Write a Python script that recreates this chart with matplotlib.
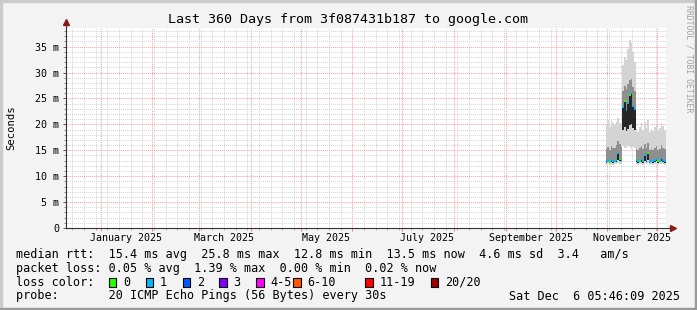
import datetime as dt
import matplotlib
matplotlib.use("Agg")
import matplotlib.pyplot as plt
import matplotlib.dates as mdates
from matplotlib.patches import Rectangle
import numpy as np
import pandas as pd

# --- data (one value per day, Oct 31 .. Dec 5 2025) ---
days = pd.date_range("2025-10-31", periods=36, freq="D")

median_ms = [12.9, 13.0, 12.8, 13.1, 12.9, 13.0, 13.2, 14.5, 13.4, 13.0,
             23.4, 24.6, 22.8, 24.1, 25.6, 26.0, 23.5, 22.9,
             13.2, 12.9, 13.0, 13.3, 12.9, 14.0, 13.1, 14.5, 12.8, 13.0, 12.9,
             13.1, 13.4, 12.9, 13.0, 13.6, 13.2, 13.0]
smoke_min = [12.2, 12.3, 12.1, 12.3, 12.2, 12.3, 12.4, 12.5, 12.4, 12.3,
             15.8, 15.5, 15.4, 15.9, 15.6, 15.3, 15.7, 15.5,
             12.3, 12.2, 12.3, 12.4, 12.2, 12.5, 12.3, 12.5, 12.1, 12.3, 12.2,
             12.3, 12.4, 12.2, 12.3, 12.4, 12.3, 12.2]
smoke_lo = [12.6, 12.7, 12.5, 12.7, 12.6, 12.7, 12.8, 13.2, 12.9, 12.7,
            19.0, 19.5, 18.8, 19.2, 19.8, 20.0, 19.3, 18.9,
            12.7, 12.6, 12.7, 12.8, 12.6, 13.0, 12.7, 13.2, 12.5, 12.7, 12.6,
            12.7, 12.9, 12.6, 12.7, 13.0, 12.8, 12.6]
smoke_hi = [15.2, 15.6, 15.0, 15.8, 15.4, 15.5, 16.0, 16.8, 16.2, 15.6,
            26.5, 27.5, 26.8, 27.8, 28.5, 28.8, 27.2, 26.4,
            15.3, 15.0, 15.4, 15.8, 15.2, 16.2, 15.5, 16.5, 15.0, 15.3, 15.1,
            15.4, 15.9, 15.1, 15.3, 16.0, 15.5, 15.2]
smoke_max = [20.0, 20.8, 19.5, 21.0, 20.2, 19.8, 20.5, 21.2, 20.3, 19.9,
             31.5, 33.0, 32.5, 34.5, 36.2, 35.8, 34.0, 32.0,
             19.2, 18.6, 19.5, 20.3, 19.0, 20.5, 19.3, 20.8, 18.5, 19.2, 18.8,
             19.4, 20.0, 18.7, 19.3, 20.2, 19.6, 19.0]
loss_count = [1, 1, 0, 1, 1, 1, 1, 1, 0, 1,
              1, 0, 1, 1, 0, 1, 1, 1,
              1, 1, 0, 1, 1, 1, 1, 0, 1, 1, 1, 1, 1, 0, 1, 1, 1, 1]

loss_labels = ["0", "1", "2", "3", "4-5", "6-10", "11-19", "20/20"]
loss_colors = ["#26ff00", "#00b8ff", "#0059ff", "#7e00ff", "#ff00ff",
               "#ff5500", "#ff0000", "#a10000"]

y_ticks = [0, 5, 10, 15, 20, 25, 30, 35]
y_labels = ["0", "5 m", "10 m", "15 m", "20 m", "25 m", "30 m", "35 m"]

month_labels = ["January 2025", "March 2025", "May 2025", "July 2025",
                "September 2025", "November 2025"]
month_starts = pd.to_datetime(["2025-01-01", "2025-03-01", "2025-05-01",
                               "2025-07-01", "2025-09-01", "2025-11-01"])

legend_rtt = "median rtt:  15.4 ms avg  25.8 ms max  12.8 ms min  13.5 ms now  4.6 ms sd  3.4   am/s"
legend_loss = "packet loss: 0.05 % avg  1.39 % max  0.00 % min  0.02 % now"
legend_probe = "probe:       20 ICMP Echo Pings (56 Bytes) every 30s"
stamp = "Sat Dec  6 05:46:09 2025"

t_end = dt.datetime(2025, 12, 6, 5, 46, 9)
t_start = t_end - dt.timedelta(days=360)

W, H = 697, 310
MONO = "DejaVu Sans Mono"


def fx(x):
    return x / W


def fy(y):
    return 1 - y / H


fig = plt.figure(figsize=(W / 100, H / 100), dpi=100, facecolor="#f3f3f3")

# 3D frame like rrdtool
fig.patches.append(Rectangle((0, 0), fx(2), 1, transform=fig.transFigure, color="#cbcbcb"))
fig.patches.append(Rectangle((0, fy(2)), 1, 2 / H, transform=fig.transFigure, color="#cbcbcb"))
fig.patches.append(Rectangle((fx(W - 2), 0), fx(2), 1, transform=fig.transFigure, color="#999999"))
fig.patches.append(Rectangle((0, 0), 1, 2 / H, transform=fig.transFigure, color="#999999"))

ax = fig.add_axes([fx(66), fy(228), 600 / W, 200 / H])
ax.set_facecolor("white")
ax.set_xlim(t_start, t_end)
ax.set_ylim(0, 38.6)

# grid
ax.xaxis.set_major_locator(mdates.MonthLocator())
ax.xaxis.set_minor_locator(mdates.WeekdayLocator(byweekday=mdates.SU))
ax.set_yticks(y_ticks, y_labels)
ax.yaxis.set_minor_locator(plt.MultipleLocator(1))
ax.grid(which="minor", color="#d2d2d2", lw=0.7, ls=(0, (1, 1)))
ax.grid(which="major", color="#ff9a9a", lw=0.7, ls=(0, (1, 1)))
ax.set_axisbelow(True)
ax.xaxis.set_major_formatter(plt.NullFormatter())
ax.tick_params(axis="y", which="major", length=2.5, width=0.7, color="#555555", pad=2.5,
               labelsize=7.2, labelfontfamily=MONO)
ax.tick_params(axis="y", which="minor", length=1.5, width=0.7, color="#888888")
ax.tick_params(axis="x", which="major", length=2, width=0.7, color="#e08080")
ax.tick_params(axis="x", which="minor", length=1.5, width=0.7, color="#aaaaaa")
for s in ax.spines.values():
    s.set_visible(False)

# smoke
edges = np.append(days.to_numpy(), np.datetime64(t_end))


def stepped(v):
    return np.append(v, v[-1])


ax.fill_between(edges, stepped(smoke_min), stepped(smoke_max), step="post",
                color="#d4d4d4", lw=0)
ax.fill_between(edges, stepped(median_ms), stepped(smoke_hi), step="post",
                color="#8f8f8f", lw=0)
ax.fill_between(edges, stepped(smoke_lo), stepped(median_ms), step="post",
                color="#262626", lw=0)

# median, coloured by loss
seg_colors = [loss_colors[c] for c in loss_count]
ax.hlines(median_ms, edges[:-1], edges[1:], colors=seg_colors, lw=1.4)

# axis lines with arrows
ax.plot([0, 0], [0, 1.03], transform=ax.transAxes, clip_on=False, color="#333333", lw=0.8)
ax.plot([0, 1.012], [0, 0], transform=ax.transAxes, clip_on=False, color="#333333", lw=0.8)
ax.plot([0], [1.03], marker="^", ms=4, color="#8b1a1a", transform=ax.transAxes, clip_on=False)
ax.plot([1.012], [0], marker=">", ms=4, color="#8b1a1a", transform=ax.transAxes, clip_on=False)

# month labels, centred in the month
for lab, m in zip(month_labels, month_starts):
    ax.annotate(lab, xy=(m + pd.Timedelta(days=15), 0), xycoords=("data", "axes fraction"),
                xytext=(0, -7), textcoords="offset points", ha="center", va="center",
                fontsize=7.2, family=MONO)

# title and labels
fig.text(fx(347.5), fy(19), "Last 360 Days from 3f087431b187 to google.com",
         ha="center", va="center", fontsize=9.6, family=MONO)
fig.text(fx(11), fy(128), "Seconds", rotation=90, ha="center", va="center",
         fontsize=7.6, family=MONO)
fig.text(fx(689), fy(5), "RRDTOOL / TOBI OETIKER", rotation=270, ha="center", va="top",
         fontsize=5.9, family=MONO, color="#a0a0a0")

# legend
LS = 8.5


def leg(x, y, s, ha="left"):
    fig.text(fx(x), fy(y), s, ha=ha, va="center", fontsize=LS, family=MONO)


y1, y2, y3, y4 = 254.5, 268.5, 282, 296
leg(16, y1, legend_rtt)
leg(16, y2, legend_loss)

leg(16, y3, "loss color:")
box_x = [108.7, 145.7, 182.7, 219.3, 256.3, 293.3, 365, 430.7]
for bx, lab, col in zip(box_x, loss_labels, loss_colors):
    fig.patches.append(Rectangle((fx(bx), fy(y3 + 4.5)), 7.5 / W, 9 / H,
                                 transform=fig.transFigure, facecolor=col,
                                 edgecolor="black", lw=0.8))
    leg(bx + 14.3, y3, lab)

leg(16, y4, legend_probe)
leg(680, y4, stamp, ha="right")

fig.savefig("out.png", dpi=100, facecolor=fig.get_facecolor())
